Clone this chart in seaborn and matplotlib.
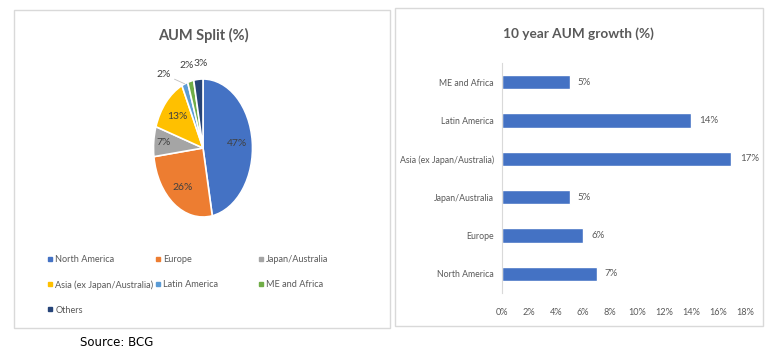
import numpy as np
import pandas as pd
import matplotlib
matplotlib.use("Agg")
import matplotlib.pyplot as plt
from matplotlib.patches import Rectangle
from matplotlib.lines import Line2D
import seaborn as sns

# data
split_regions = ["North America", "Europe", "Japan/Australia", "Asia (ex Japan/Australia)",
                 "Latin America", "ME and Africa", "Others"]
split_pct = [47, 26, 7, 13, 2, 2, 3]
split_colors = ["#4472C4", "#ED7D31", "#A5A5A5", "#FFC000", "#5B9BD5", "#70AD47", "#264478"]

growth_regions = ["ME and Africa", "Latin America", "Asia (ex Japan/Australia)",
                  "Japan/Australia", "Europe", "North America"]
growth_pct = [5, 14, 17, 5, 6, 7]
x_ticks = [0, 2, 4, 6, 8, 10, 12, 14, 16, 18]

sns.set_theme(style="white")
plt.rcParams["font.family"] = ["Lato", "DejaVu Sans"]

GREY = "#595959"
FW, FH = 775, 364
fig = plt.figure(figsize=(FW / 100, FH / 100), dpi=100)

def fx(px):
    return px / FW

def fy(py):
    return 1 - py / FH

# panel frames
fig.patches.append(Rectangle((fx(14), fy(328)), fx(376), 318 / FH, transform=fig.transFigure,
                             fill=False, edgecolor="#D9D9D9", lw=1))
fig.patches.append(Rectangle((fx(395), fy(326)), fx(368), 318 / FH, transform=fig.transFigure,
                             fill=False, edgecolor="#D9D9D9", lw=1))

# ---- pie ----
ax1 = fig.add_axes([fx(153.5), fy(217), fx(99), 138 / FH])
wedges, _ = ax1.pie(split_pct, colors=split_colors, startangle=90, counterclock=False,
                    wedgeprops=dict(edgecolor="white", linewidth=1.2))
ax1.set_aspect("auto")
ax1.set_xlim(-1, 1)
ax1.set_ylim(-1, 1)
small_dx = {4: -0.2, 5: -0.01, 6: 0.08}
for i, (w, v) in enumerate(zip(wedges, split_pct)):
    ang = np.deg2rad((w.theta1 + w.theta2) / 2)
    c, s = np.cos(ang), np.sin(ang)
    if v >= 5:
        d = 0.8 if v < 10 else 0.7
        ax1.text(d * c, d * s, f"{v}%", ha="center", va="center", fontsize=7.5, color="#404040")
    elif i == 4:
        ax1.annotate(f"{v}%", xy=(1.0 * c, 1.0 * s), xytext=(1.2 * c + small_dx[i], 1.2 * s - 0.05),
                     ha="right", va="center", fontsize=7.5, color="#404040",
                     arrowprops=dict(arrowstyle="-", color="#BFBFBF", lw=0.6,
                                     shrinkA=0, shrinkB=0))
    else:
        ax1.text(1.25 * c + small_dx[i], 1.23 * s, f"{v}%", ha="center", va="center",
                 fontsize=7.5, color="#404040")

fig.text(fx(203), fy(35), "AUM Split (%)", ha="center", va="center", fontsize=10.5,
         fontweight="bold", color=GREY)

# legend, 3 columns laid out row by row
handles = [Line2D([], [], marker="s", ls="none", color=c, markersize=3.5) for c in split_colors]
col_x = [47, 155, 258]
for col in range(3):
    idx = [i for i in range(col, len(split_regions), 3)]
    fig.legend([handles[i] for i in idx], [split_regions[i] for i in idx],
               loc="upper left", bbox_to_anchor=(fx(col_x[col]), fy(255)),
               frameon=False, fontsize=6.6, labelcolor=GREY, handlelength=0.6,
               handletextpad=0.3, labelspacing=1.75, borderpad=0, borderaxespad=0)

fig.text(fx(80), fy(343), "Source: BCG", ha="left", va="center", fontsize=8.5,
         color="black", family=["DejaVu Sans"])

# ---- bars ----
ax2 = fig.add_axes([fx(502), fy(293), fx(243), 230 / FH])
df = pd.DataFrame({"region": growth_regions, "growth": growth_pct})
sns.barplot(data=df, x="growth", y="region", orient="h", color="#4472C4",
            width=0.37, saturation=1, ax=ax2)
ax2.set_xlim(0, 18)
ax2.set_xticks(x_ticks)
ax2.set_xticklabels([f"{t}%" for t in x_ticks])
ax2.set_xlabel("")
ax2.set_ylabel("")
ax2.tick_params(axis="both", length=0, labelsize=6.6, labelcolor=GREY)
ax2.tick_params(axis="x", pad=11)
ax2.tick_params(axis="y", pad=6, labelsize=6.3)
for side in ["top", "right", "bottom"]:
    ax2.spines[side].set_visible(False)
ax2.spines["left"].set_color("#D9D9D9")
ax2.spines["left"].set_linewidth(0.8)
ax2.bar_label(ax2.containers[0], labels=[f"{v}%" for v in growth_pct], padding=6,
              fontsize=7, color=GREY)
ax2.grid(False)

fig.text(fx(578), fy(34), "10 year AUM growth (%)", ha="center", va="center", fontsize=9.8,
         fontweight="bold", color=GREY)

fig.savefig("out.png", dpi=100)
